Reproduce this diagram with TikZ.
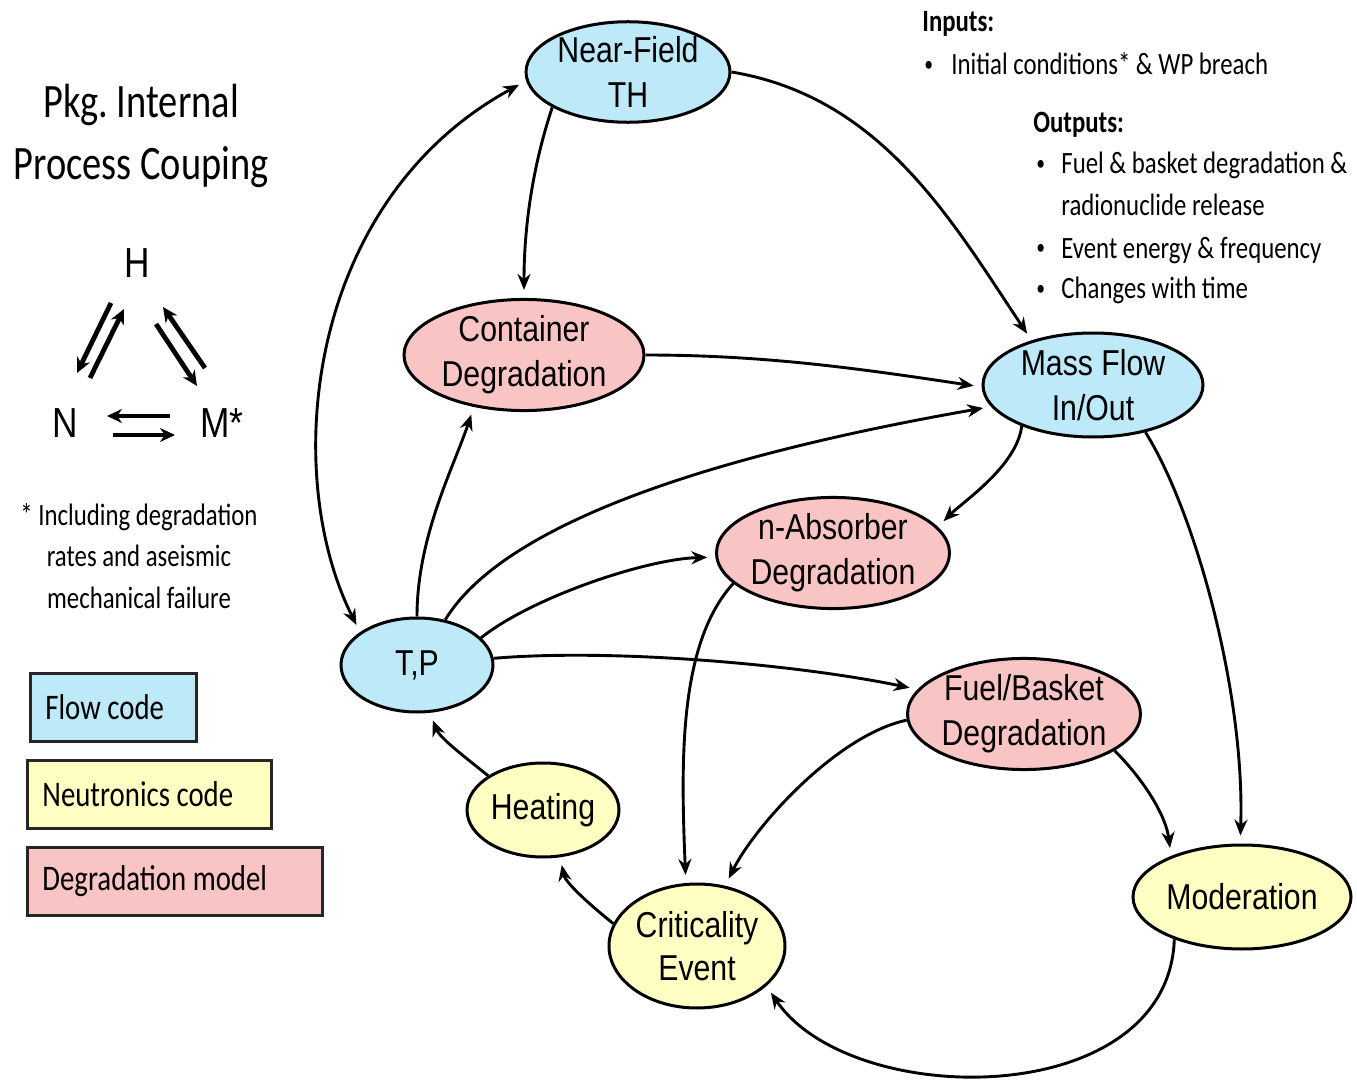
\documentclass[tikz,border=0pt]{standalone}
\usepackage{fontspec}
\usetikzlibrary{shapes.geometric,arrows.meta}
\newfontfamily\nodefont[FakeStretch=0.84]{Liberation Sans}
\newfontfamily\notefont[FakeStretch=0.8]{Carlito}
\definecolor{flowblue}{RGB}{189,233,249}
\definecolor{neutyellow}{RGB}{255,255,195}
\definecolor{degpink}{RGB}{249,196,196}

\begin{document}
\begin{tikzpicture}[x=0.5pt,y=-0.5pt,
  proc/.style={ellipse, draw=black, line width=1.5pt, inner sep=0pt, align=center,
    font=\nodefont\fontsize{18}{22.5}\selectfont},
  flow/.style={proc, fill=flowblue},
  neut/.style={proc, fill=neutyellow},
  degr/.style={proc, fill=degpink},
  link/.style={line width=1.45pt, -{Stealth[length=8pt,width=6.5pt]}, shorten >=4pt},
  twoway/.style={line width=1.45pt, {Stealth[length=8pt,width=6.5pt]}-{Stealth[length=8pt,width=6.5pt]},
    shorten >=4pt, shorten <=4pt},
  couple/.style={line width=2.4pt, -{Stealth[length=7.5pt,width=7pt]}},
  letter/.style={font=\nodefont\fontsize{21}{25}\selectfont, inner sep=0pt},
  note/.style={font=\notefont\fontsize{15.5}{20.8}\selectfont, inner sep=0pt},
  dot/.style={font=\notefont\fontsize{11}{14}\selectfont, inner sep=0pt},
  legendbox/.style={draw=black!85, line width=1.5pt, anchor=north west, inner sep=0pt},
  legendtext/.style={font=\notefont\fontsize{18}{22}\selectfont, anchor=west, inner sep=0pt},
]
\useasboundingbox (0,0) rectangle (1357,1081);
\fill[white] (0,0) rectangle (1357,1081);

% ---- title and coupling triangle ----
\node[font=\notefont\fontsize{24}{31}\selectfont, align=center, inner sep=0pt] (title) at (141,136)
  {Pkg.\ Internal\\Process Couping};

\node[letter] (H) at (137,263) {H};
\node[letter] (N) at (65,423) {N};
\node[letter] (M) at (222,423) {M*};

\coordinate (hn1s) at (111,303); \coordinate (hn1e) at (77,373);
\coordinate (hn2s) at (90,378);  \coordinate (hn2e) at (124,309);
\coordinate (hm1s) at (205,368); \coordinate (hm1e) at (163,307);
\coordinate (hm2s) at (156,324); \coordinate (hm2e) at (197,386);
\coordinate (nm1s) at (170,416); \coordinate (nm1e) at (107,416);
\coordinate (nm2s) at (113,435); \coordinate (nm2e) at (175,435);
\draw[couple] (hn1s) -- (hn1e);
\draw[couple] (hn2s) -- (hn2e);
\draw[couple] (hm1s) -- (hm1e);
\draw[couple] (hm2s) -- (hm2e);
\draw[couple] (nm1s) -- (nm1e);
\draw[couple] (nm2s) -- (nm2e);

\node[note, align=center] (foot) at (139,556)
  {* Including degradation\\rates and aseismic\\mechanical failure};

% ---- legend ----
\node[legendbox, fill=flowblue, minimum width=83pt, minimum height=34pt] (lgflow) at (29,672) {};
\node[legendtext] (lgflowt) at (45,707) {Flow code};
\node[legendbox, fill=neutyellow, minimum width=122pt, minimum height=34pt] (lgneut) at (26,759) {};
\node[legendtext] (lgneutt) at (42,794) {Neutronics code};
\node[legendbox, fill=degpink, minimum width=147.5pt, minimum height=34pt] (lgdeg) at (26,846) {};
\node[legendtext] (lgdegt) at (42,881) {Degradation model};

% ---- inputs / outputs ----
\node[note, anchor=base west, font=\notefont\bfseries\fontsize{15.5}{20}\selectfont] (inp) at (922,32) {Inputs:};
\node[dot, anchor=base west] (inb1) at (924,72) {•};
\node[note, anchor=base west] (in1) at (951,75) {Initial conditions* \& WP breach};
\node[note, anchor=base west, font=\notefont\bfseries\fontsize{15.5}{20}\selectfont] (outp) at (1033,133) {Outputs:};
\node[dot, anchor=base west] (ob1) at (1036,171) {•};
\node[note, anchor=base west] (o1) at (1061,174) {Fuel \& basket degradation \&};
\node[note, anchor=base west] (o1b) at (1061,216) {radionuclide release};
\node[dot, anchor=base west] (ob2) at (1036,255) {•};
\node[note, anchor=base west] (o2) at (1061,258) {Event energy \& frequency};
\node[dot, anchor=base west] (ob3) at (1036,296) {•};
\node[note, anchor=base west] (o3) at (1061,299) {Changes with time};

% ---- process nodes ----
\node[flow, minimum width=102pt, minimum height=48pt] (nf) at (628,72) {Near-Field\\TH};
\node[degr, minimum width=120pt, minimum height=52pt] (cd) at (524,355) {Container\\Degradation};
\node[flow, minimum width=110pt, minimum height=52pt] (mf) at (1093,385) {Mass Flow\\In/Out};
\node[degr, minimum width=116pt, minimum height=55pt] (na) at (833,553) {n-Absorber\\Degradation};
\node[flow, minimum width=76pt, minimum height=47pt] (tp) at (417,665) {T,P};
\node[degr, minimum width=116pt, minimum height=54pt] (fb) at (1024,714) {Fuel/Basket\\Degradation};
\node[neut, minimum width=76pt, minimum height=47pt] (ht) at (543,810) {Heating};
\node[neut, minimum width=88pt, minimum height=62pt, font=\nodefont\fontsize{18}{21.5}\selectfont] (ce) at (697,946) {Criticality\\Event};
\node[neut, minimum width=109pt, minimum height=52pt] (mo) at (1242,897) {Moderation};

% ---- connectors ----
\draw[link] (nf.205) .. controls +(-20,60) and +(0,-70) .. (cd.90);
\draw[link] (nf.0) .. controls +(150,25) and +(-80,-120) .. (mf.144);
\draw[twoway] (tp.150) .. controls +(-80,-160) and +(-220,120) .. (nf.185);
\draw[link] (cd.0) .. controls +(120,0) and +(-120,-18) .. (mf.181);
\draw[link] (tp.90) .. controls +(0,-80) and +(-20,60) .. (cd.226);
\draw[link] (tp.58) .. controls +(70,-115) and +(-200,35) .. (mf.192);
\draw[link] (tp.23) .. controls +(50,-40) and +(-70,2) .. (na.182);
\draw[link] (tp.5) .. controls +(120,-10) and +(-120,-25) .. (fb.167);
\draw[link] (mf.210) .. controls +(-5,40) and +(25,-25) .. (na.14);
\draw[link] (mf.318) .. controls +(50,80) and +(5,-150) .. (mo.92);
\draw[link] (na.197) .. controls +(-55,60) and +(-5,-120) .. (ce.100);
\draw[link] (fb.183) .. controls +(-70,15) and +(30,-60) .. (ce.65);
\draw[link] (fb.338) .. controls +(30,30) and +(-5,-40) .. (mo.150);
\draw[link] (mo.212) .. controls +(-6,172) and +(85,125) .. (ce.330);
\draw[link] (ce.165) .. controls +(-25,-20) and +(5,25) .. (ht.290);
\draw[link] (ht.148) .. controls +(-25,-20) and +(10,25) .. (tp.285);
\end{tikzpicture}
\end{document}
